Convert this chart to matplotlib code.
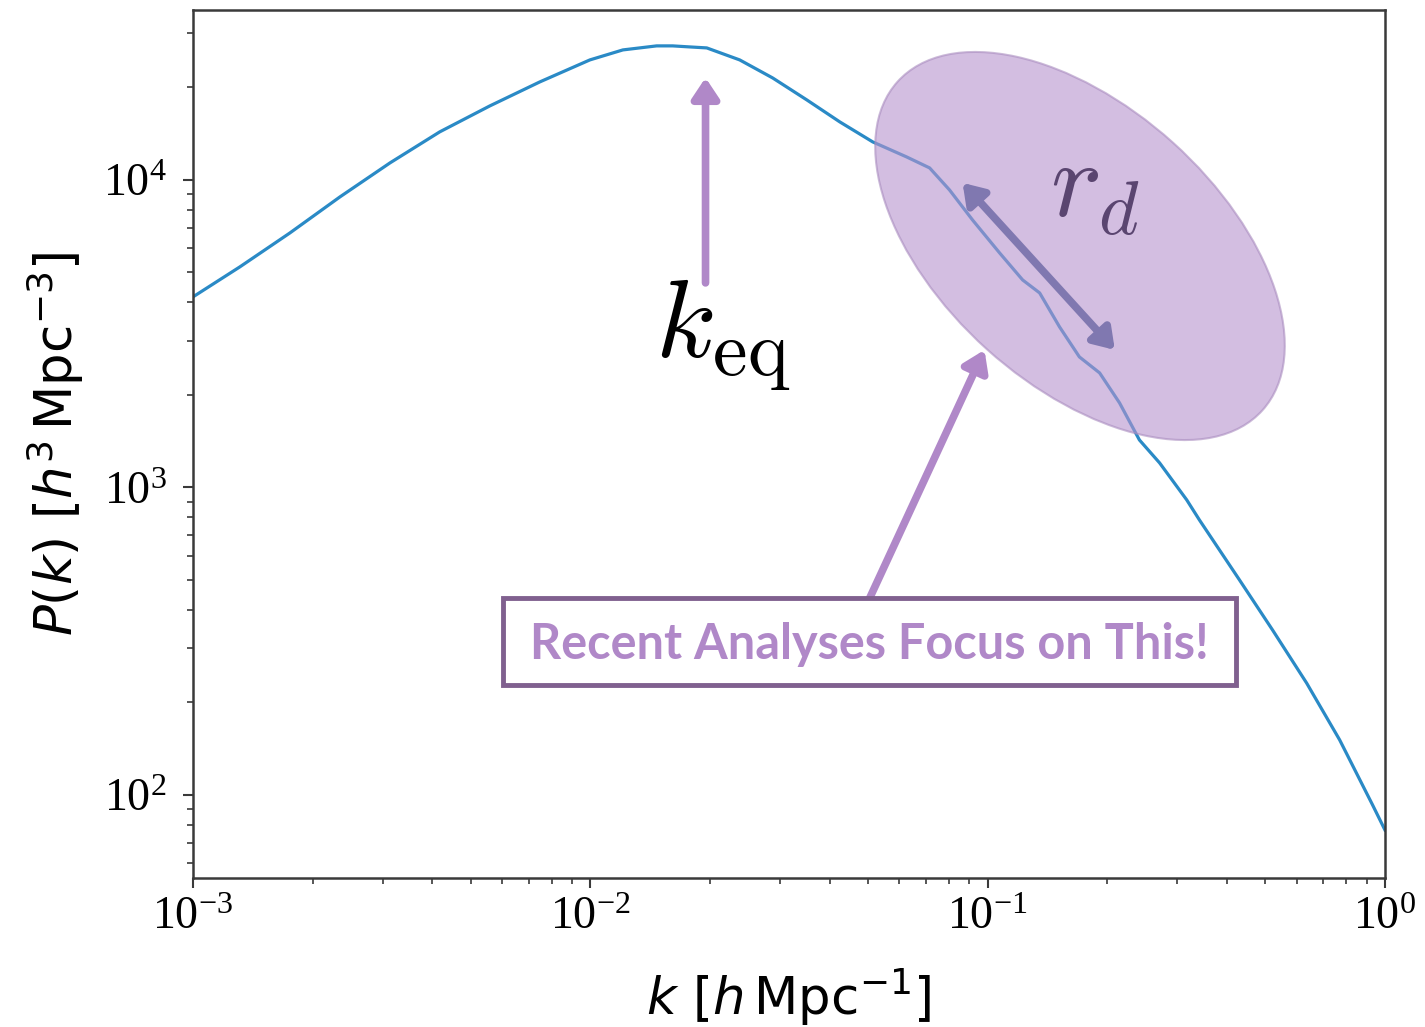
import numpy as np
import matplotlib.pyplot as plt
from matplotlib.patches import Ellipse, Rectangle

# spettro di potenza
k = [0.001, 0.001312, 0.001754, 0.002344, 0.003133, 0.004178, 0.005585,
     0.007464, 0.009977, 0.01208, 0.01469, 0.01612, 0.01778, 0.01964,
     0.02377, 0.02877, 0.03508, 0.04246, 0.0514, 0.06252, 0.07145, 0.08017,
     0.09162, 0.1072, 0.1225, 0.1352, 0.1517, 0.1702, 0.1914, 0.2148, 0.241,
     0.271, 0.317, 0.3412, 0.4305, 0.5212, 0.6353, 0.7691, 0.9311, 1.0]
Pk = [4164, 5213, 6723, 8806, 11360, 14326, 17400,
      20830, 24560, 26470, 27280, 27280, 27070, 26870,
      24560, 21460, 18200, 15440, 13290, 11880, 10940, 9280,
      7410, 5788, 4728, 4290, 3327, 2657, 2357, 1883, 1427,
      1201, 911, 784, 500, 344, 231, 151, 92.7, 76.9]

k_eq = 0.0195
box_text = 'Recent Analyses Focus on This!'

viola = '#b088c8'
viola_scuro = '#80608f'

fig = plt.figure(figsize=(14.25, 10.27), dpi=100)
ax = fig.add_axes([0.1354, 0.1451, 0.8365, 0.8452])

ax.plot(k, Pk, color='#2a8ac6', lw=2.3, zorder=2)
ax.set_xscale('log')
ax.set_yscale('log')
ax.set_xlim(1e-3, 1)
ax.set_ylim(53.7, 35700)

for s in ax.spines.values():
    s.set_color('#3a3a3a')
    s.set_linewidth(1.8)
ax.tick_params(which='both', direction='out', top=False, right=False,
               color='#3a3a3a', labelfontfamily='Liberation Serif',
               labelsize=33)
ax.tick_params(which='major', length=7, width=1.5)
ax.tick_params(which='minor', length=4, width=1.2)
ax.tick_params(axis='y', pad=12)
ax.tick_params(axis='x', pad=6)

ax.set_xlabel(r'$k\ [h\,\mathrm{Mpc}^{-1}]$', fontsize=37,
              math_fontfamily='dejavusans', labelpad=20)
ax.set_ylabel(r'$P(k)\ [h^3\,\mathrm{Mpc}^{-3}]$', fontsize=37,
              math_fontfamily='dejavusans', labelpad=12)

# ellisse sulle BAO
ell = Ellipse((10.80, 7.81), 4.91, 2.78, angle=-42,
              transform=fig.dpi_scale_trans, facecolor='#b693cd',
              edgecolor='#a98cbf', lw=1.5, alpha=0.6, zorder=3,
              clip_on=False)
ax.add_patch(ell)

freccia = dict(arrowstyle='-|>,head_length=1.2,head_width=0.8',
               color=viola, lw=5.5, shrinkA=0, shrinkB=0)

# freccia k_eq
ax.annotate('', xy=(k_eq, 21500), xytext=(k_eq, 4625), arrowprops=freccia)
ax.text(0.0215, 4800, r'$k_{\rm eq}$', fontsize=80, math_fontfamily='cm',
        ha='center', va='top', color='black')

# freccia doppia r_d
ax.annotate('', xy=(0.0865, 9780), xytext=(0.209, 2800),
            arrowprops=dict(arrowstyle='<|-|>,head_length=1.2,head_width=0.8',
                            color='#8078b0', lw=5.5, shrinkA=0, shrinkB=0),
            zorder=4)
ax.text(0.186, 9500, r'$r_d$', fontsize=78, math_fontfamily='cm',
        ha='center', va='center', color='#5a4570', zorder=4)

# riquadro e freccia
ax.annotate('', xy=(0.0982, 2800), xytext=(0.0505, 437), arrowprops=freccia)
ax.add_patch(Rectangle((0.260, 0.2224), 0.615, 0.1002, transform=ax.transAxes,
                       facecolor='white', edgecolor=viola_scuro, lw=3.5,
                       zorder=5))
ax.text(0.567, 0.269, box_text, transform=ax.transAxes, fontsize=35,
        fontweight='bold', family='Lato', color=viola,
        ha='center', va='center', zorder=6)

fig.savefig('out.png', dpi=100)
